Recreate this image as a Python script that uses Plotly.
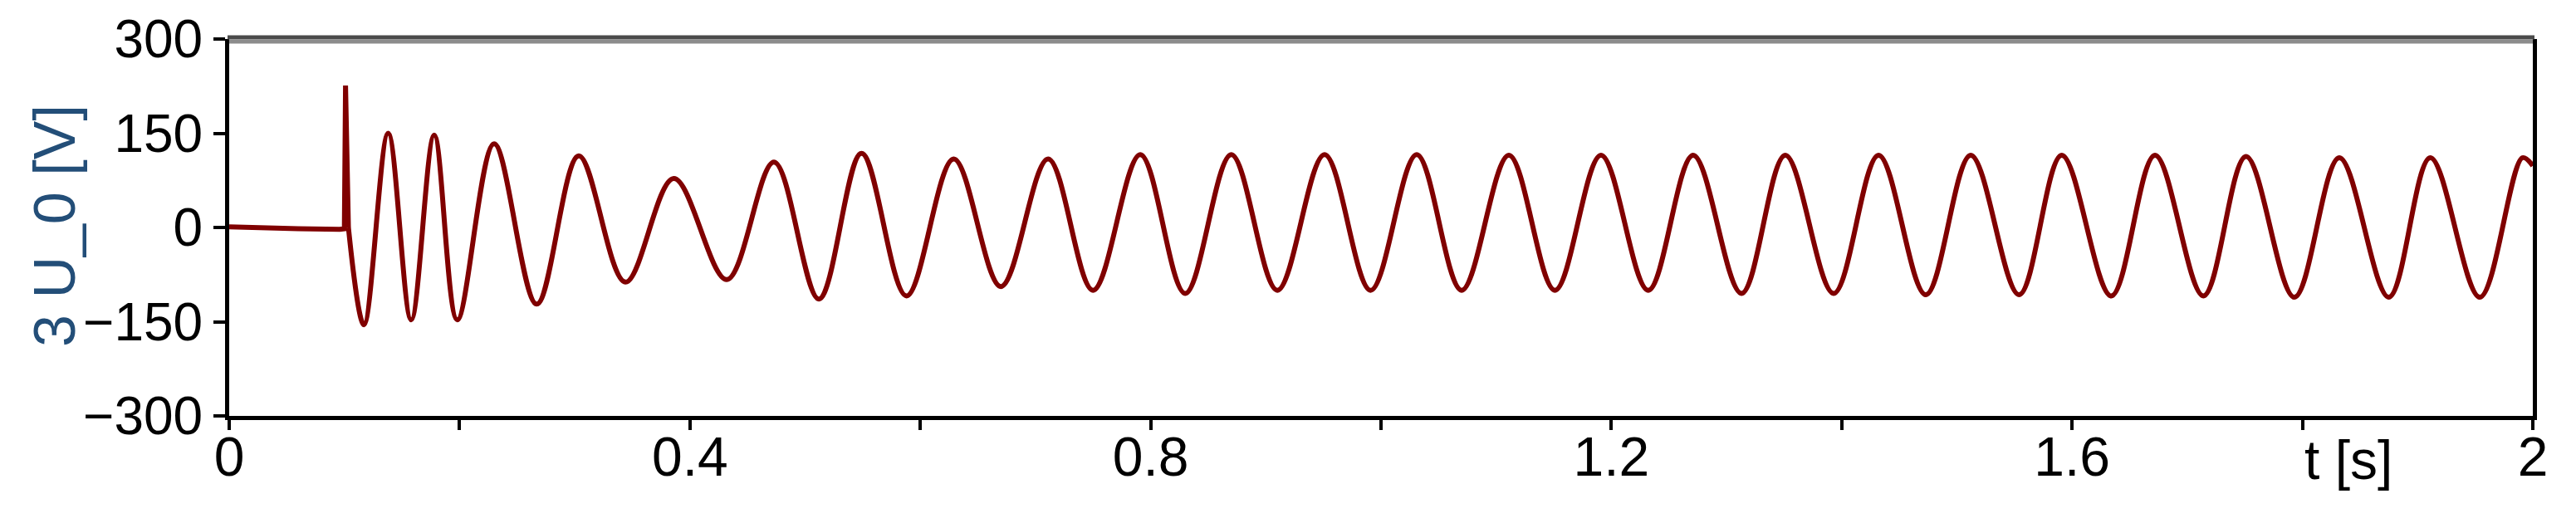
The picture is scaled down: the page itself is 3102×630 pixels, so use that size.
import plotly.graph_objects as go

# pre-fault level and the switching spike (drawn with straight segments)
PRE_T = [0, 0.03, 0.06, 0.096, 0.1, 0.101, 0.1035]
PRE_V = [1, -1, -2, -3, -2, 226, 0]

# oscillation after the fault: successive extrema
OSC_T = [0.1035, 0.117, 0.138, 0.158, 0.178, 0.198, 0.230, 0.267, 0.3035, 0.344,
         0.386, 0.432, 0.473, 0.512, 0.549, 0.588, 0.629, 0.670, 0.711, 0.750,
         0.791, 0.830, 0.870, 0.910, 0.951, 0.991, 1.031, 1.070, 1.111, 1.151,
         1.191, 1.232, 1.271, 1.313, 1.351, 1.393, 1.432, 1.473, 1.512, 1.554,
         1.591, 1.634, 1.672, 1.714, 1.751, 1.793, 1.832, 1.875, 1.911, 1.954,
         1.991, 2.0]
OSC_V = [0, -155, 150, -147, 147, -147, 133, -122, 114, -87,
         78, -83, 104, -114, 118, -109, 109, -94, 109, -100,
         116, -105, 116, -100, 116, -100, 116, -100, 115, -100,
         115, -100, 115, -105, 115, -105, 115, -107, 115, -107,
         115, -109, 115, -109, 113, -111, 111, -111, 111, -111,
         111, 98]

X_TICKS = [0, 0.4, 0.8, 1.2, 1.6, 2]
X_TICK_TEXT = ["0", "0.4", "0.8", "1.2", "1.6", "2"]
Y_TICKS = [-300, -150, 0, 150, 300]

LINE = "#800000"
FONT = "Liberation Sans, Arial, sans-serif"

L, R, T, B = 276, 52, 47, 129
W, H = 3102, 630
PW, PH = W - L - R, H - T - B

fig = go.Figure()
fig.add_trace(go.Scatter(x=PRE_T, y=PRE_V, mode="lines",
                         line=dict(color=LINE, width=6), showlegend=False))
fig.add_trace(go.Scatter(x=OSC_T, y=OSC_V, mode="lines",
                         line=dict(color=LINE, width=6, shape="spline", smoothing=1),
                         showlegend=False))

fig.update_layout(
    template="none",
    width=W, height=H,
    margin=dict(l=L, r=R, t=T, b=B, pad=0),
    paper_bgcolor="white",
    plot_bgcolor="white",
    font=dict(family=FONT, size=64, color="black"),
    showlegend=False,
)
fig.update_xaxes(
    range=[0, 2], tickvals=X_TICKS, ticktext=X_TICK_TEXT,
    showgrid=False, zeroline=False, automargin=False,
    showline=True, linecolor="black", linewidth=5, mirror=False,
    ticks="outside", ticklen=12, tickwidth=4, tickcolor="black",
    minor=dict(dtick=0.2, ticks="outside", ticklen=12, tickwidth=4,
               tickcolor="black", showgrid=False),
    tickfont=dict(family=FONT, size=66, color="black"),
    ticklabelstandoff=-24,
)
fig.update_yaxes(
    range=[-300, 300], tickvals=Y_TICKS,
    showgrid=False, zeroline=False, automargin=False,
    showline=True, linecolor="black", linewidth=5, mirror=True,
    ticks="outside", ticklen=14, tickwidth=4, tickcolor="black",
    tickfont=dict(family=FONT, size=64, color="black"),
)

# grey top frame line
fig.add_shape(type="line", xref="paper", yref="paper", x0=-2 / PW, x1=1 + 2 / PW,
              y0=1 + 2 / PH, y1=1 + 2 / PH, line=dict(color="#4a4a4a", width=5))
fig.add_shape(type="line", xref="paper", yref="paper", x0=0, x1=1,
              y0=1 - 3 / PH, y1=1 - 3 / PH, line=dict(color="#8c8c8c", width=5))

# axis titles
fig.add_annotation(text="3 U_0 [V]", xref="paper", yref="paper",
                   x=(66 - L) / PW, y=(H - B - 272) / PH, textangle=-90,
                   xanchor="center", yanchor="middle", showarrow=False,
                   font=dict(family=FONT, size=70, color="#234e78"))
fig.add_annotation(text="t [s]", xref="x", yref="paper", x=1.8, y=-14 / PH,
                   xanchor="left", yanchor="top", showarrow=False,
                   font=dict(family=FONT, size=66, color="black"))

fig.write_html("out.html", config={"displayModeBar": False},
               post_script="document.body.style.margin='0';")
